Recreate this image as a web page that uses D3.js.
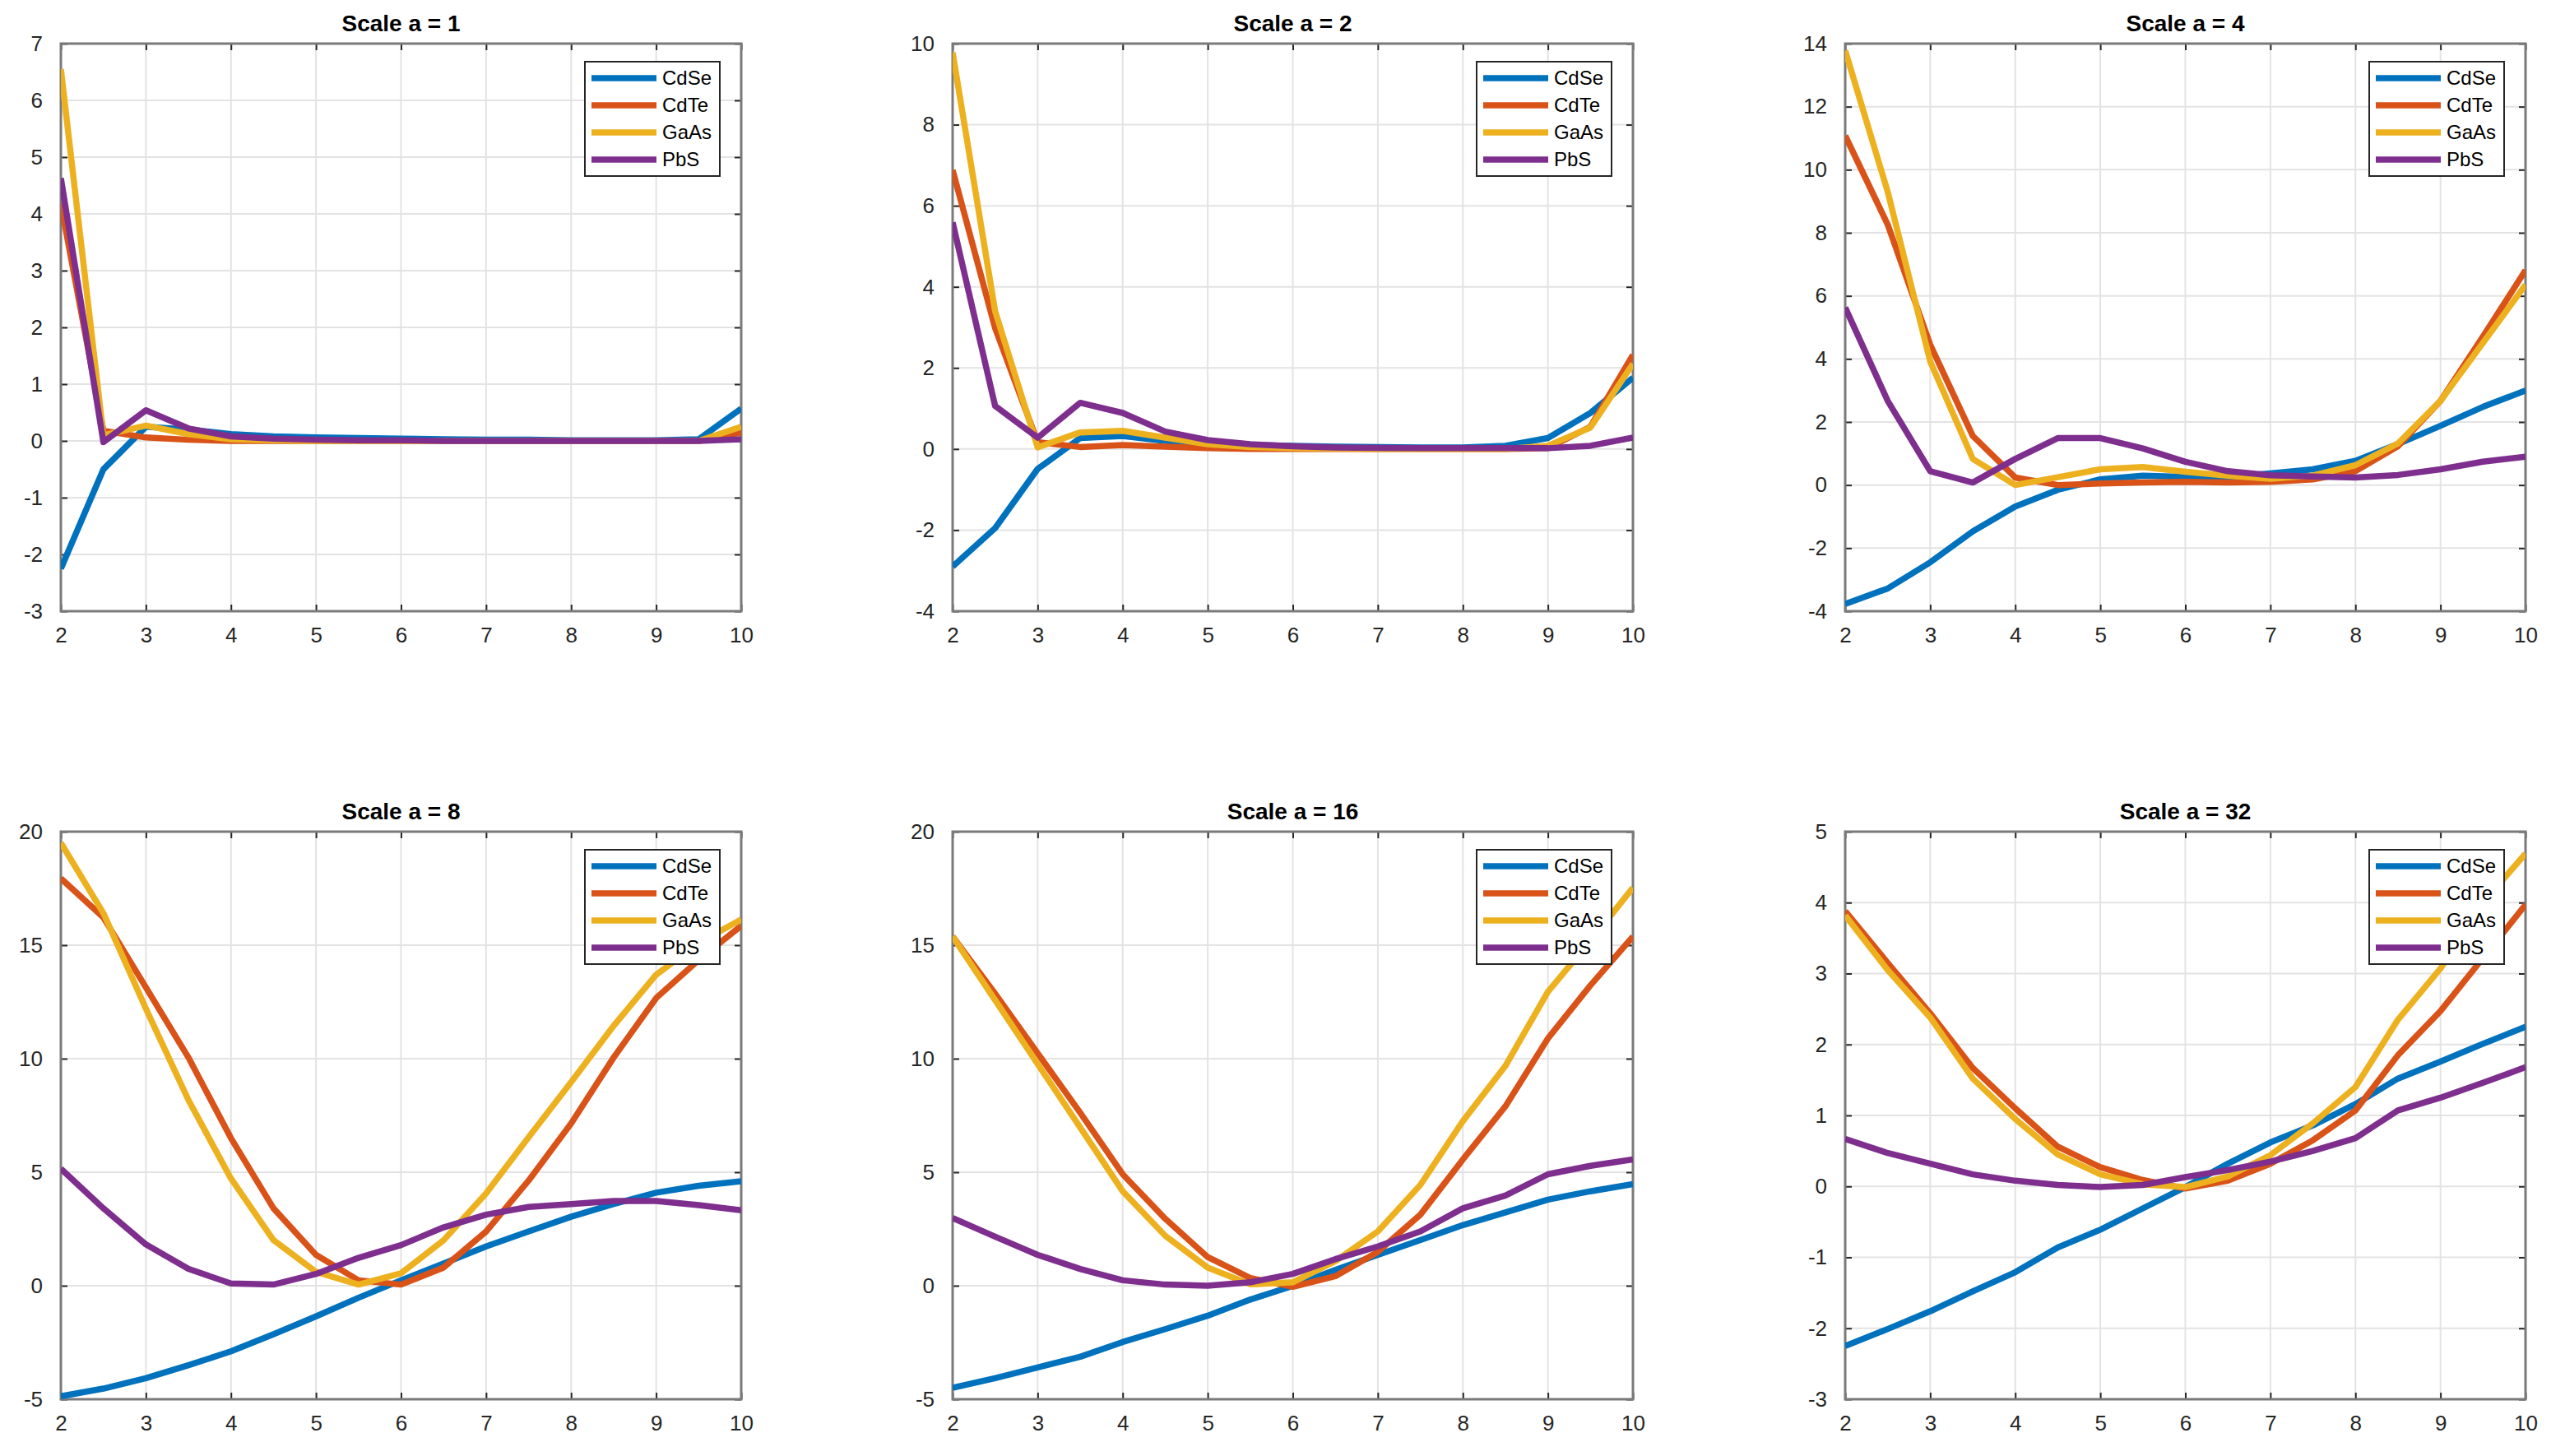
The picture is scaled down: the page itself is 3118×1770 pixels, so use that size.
<!DOCTYPE html>
<html>
<head>
<meta charset="utf-8">
<script src="https://cdn.jsdelivr.net/npm/d3@7"></script>
<style>
  body { margin: 0; background: #fff; }
  text { font-family: "Liberation Sans", Arial, sans-serif; }
</style>
</head>
<body>
<script>
// x positions shared by every panel
var xs = [2, 2.5, 3, 3.5, 4, 4.5, 5, 5.5, 6, 6.5, 7, 7.5, 8, 8.5, 9, 9.5, 10];
var xTicks = [2, 3, 4, 5, 6, 7, 8, 9, 10];

var scales = [1, 2, 4, 8, 16, 32];
var yDomains = [[-3, 7], [-4, 10], [-4, 14], [-5, 20], [-5, 20], [-3, 5]];
var yTicks = [
  [-3, -2, -1, 0, 1, 2, 3, 4, 5, 6, 7],
  [-4, -2, 0, 2, 4, 6, 8, 10],
  [-4, -2, 0, 2, 4, 6, 8, 10, 12, 14],
  [-5, 0, 5, 10, 15, 20],
  [-5, 0, 5, 10, 15, 20],
  [-3, -2, -1, 0, 1, 2, 3, 4, 5]
];

var names = ["CdSe", "CdTe", "GaAs", "PbS"];
var colors = ["#0072BD", "#D95319", "#EDB120", "#7E2F8E"];

// one row per scale a = 1, 2, 4, 8, 16, 32
var CdSe = [
  [-2.25, -0.5, 0.25, 0.2, 0.12, 0.08, 0.06, 0.05, 0.04, 0.03, 0.02, 0.02, 0.01, 0.01, 0.01, 0.03, 0.57],
  [-2.9, -1.95, -0.49, 0.27, 0.32, 0.2, 0.13, 0.1, 0.08, 0.06, 0.05, 0.04, 0.04, 0.08, 0.27, 0.89, 1.76],
  [-3.77, -3.28, -2.45, -1.47, -0.68, -0.15, 0.18, 0.3, 0.26, 0.26, 0.37, 0.5, 0.77, 1.3, 1.88, 2.48, 3.0],
  [-4.87, -4.53, -4.07, -3.5, -2.89, -2.14, -1.35, -0.53, 0.24, 0.98, 1.73, 2.39, 3.04, 3.6, 4.1, 4.4, 4.6],
  [-4.5, -4.07, -3.6, -3.13, -2.48, -1.91, -1.32, -0.61, -0.01, 0.7, 1.36, 2.01, 2.67, 3.23, 3.79, 4.16, 4.48],
  [-2.25, -2.01, -1.76, -1.48, -1.21, -0.86, -0.61, -0.31, -0.01, 0.32, 0.62, 0.86, 1.16, 1.52, 1.76, 2.01, 2.25]
];
var CdTe = [
  [4.18, 0.18, 0.06, 0.02, 0.0, 0.0, 0.0, 0.0, 0.0, 0.0, 0.0, 0.0, 0.0, 0.0, 0.0, 0.0, 0.15],
  [6.88, 2.98, 0.17, 0.05, 0.1, 0.06, 0.02, 0.0, 0.0, 0.0, 0.0, 0.0, 0.0, 0.0, 0.02, 0.55, 2.32],
  [11.08, 8.26, 4.45, 1.56, 0.24, 0.0, 0.05, 0.08, 0.1, 0.08, 0.1, 0.18, 0.44, 1.23, 2.67, 4.71, 6.81],
  [17.94, 16.22, 13.14, 10.05, 6.5, 3.41, 1.36, 0.24, 0.05, 0.8, 2.39, 4.63, 7.15, 10.05, 12.67, 14.35, 15.85],
  [15.38, 12.86, 10.24, 7.62, 4.91, 2.95, 1.26, 0.34, -0.05, 0.42, 1.49, 3.13, 5.56, 7.9, 10.89, 13.23, 15.38],
  [3.88, 3.15, 2.44, 1.67, 1.1, 0.56, 0.27, 0.09, -0.03, 0.08, 0.32, 0.65, 1.07, 1.85, 2.47, 3.22, 3.97]
];
var GaAs = [
  [6.55, 0.1, 0.27, 0.12, 0.03, 0.01, 0.0, 0.0, 0.0, 0.0, 0.0, 0.0, 0.0, 0.0, 0.0, 0.0, 0.25],
  [9.78, 3.4, 0.04, 0.41, 0.45, 0.28, 0.12, 0.05, 0.02, 0.01, 0.0, 0.0, 0.0, 0.0, 0.08, 0.53, 2.1],
  [13.78, 9.3, 3.92, 0.83, 0.0, 0.25, 0.5, 0.57, 0.42, 0.3, 0.2, 0.3, 0.63, 1.32, 2.67, 4.51, 6.35],
  [19.5, 16.41, 12.2, 8.18, 4.72, 2.01, 0.61, 0.05, 0.55, 2.0, 4.07, 6.54, 8.97, 11.45, 13.7, 15.1, 16.13],
  [15.38, 12.58, 9.77, 6.97, 4.16, 2.2, 0.8, 0.06, 0.15, 1.08, 2.39, 4.44, 7.25, 9.68, 12.95, 15.19, 17.53],
  [3.82, 3.05, 2.38, 1.52, 0.95, 0.45, 0.17, 0.03, -0.01, 0.14, 0.44, 0.89, 1.4, 2.35, 3.07, 4.0, 4.69]
];
var PbS = [
  [4.63, -0.02, 0.54, 0.22, 0.08, 0.04, 0.02, 0.01, 0.01, 0.0, 0.0, 0.0, 0.0, 0.0, 0.0, 0.0, 0.03],
  [5.59, 1.06, 0.28, 1.14, 0.89, 0.43, 0.22, 0.12, 0.07, 0.04, 0.03, 0.02, 0.02, 0.02, 0.02, 0.08, 0.28],
  [5.63, 2.67, 0.44, 0.08, 0.83, 1.49, 1.49, 1.16, 0.74, 0.44, 0.31, 0.27, 0.24, 0.32, 0.5, 0.74, 0.9],
  [5.15, 3.41, 1.82, 0.74, 0.1, 0.05, 0.52, 1.23, 1.79, 2.57, 3.13, 3.47, 3.6, 3.73, 3.73, 3.55, 3.32],
  [2.98, 2.16, 1.36, 0.74, 0.24, 0.05, 0.0, 0.15, 0.52, 1.17, 1.73, 2.39, 3.41, 3.97, 4.91, 5.28, 5.56],
  [0.67, 0.47, 0.32, 0.17, 0.08, 0.02, -0.01, 0.02, 0.13, 0.23, 0.35, 0.5, 0.68, 1.07, 1.25, 1.46, 1.68]
];

var W = 3118, H = 1770;
var pw = 827, ph = 690;
var lefts = [74, 1158, 2243];
var tops = [53, 1011];

var svg = d3.select("body")
  .append("svg")
  .attr("width", W)
  .attr("height", H);

var series = [CdSe, CdTe, GaAs, PbS];

// plain hyphen minus, like the original labels
var fmt = function(d) { return String(d); };

scales.forEach(function(a, k) {
  var ox = lefts[k % 3], oy = tops[Math.floor(k / 3)];
  var g = svg.append("g").attr("transform", "translate(" + ox + "," + oy + ")");

  var x = d3.scaleLinear().domain([2, 10]).range([0, pw]);
  var y = d3.scaleLinear().domain(yDomains[k]).range([ph, 0]);

  // grid
  g.append("g").selectAll("line").data(xTicks).join("line")
    .attr("x1", d => x(d)).attr("x2", d => x(d))
    .attr("y1", 0).attr("y2", ph)
    .attr("stroke", "#e3e3e3").attr("stroke-width", 2);
  g.append("g").selectAll("line").data(yTicks[k]).join("line")
    .attr("y1", d => y(d)).attr("y2", d => y(d))
    .attr("x1", 0).attr("x2", pw)
    .attr("stroke", "#e3e3e3").attr("stroke-width", 2);

  // axes with inward ticks on all sides
  var tickLen = 8;
  g.append("g").attr("transform", "translate(0," + ph + ")")
    .call(d3.axisBottom(x).tickValues(xTicks).tickSizeInner(-tickLen).tickSizeOuter(0).tickPadding(20).tickFormat(fmt));
  g.append("g")
    .call(d3.axisTop(x).tickValues(xTicks).tickSizeInner(-tickLen).tickSizeOuter(0).tickFormat(""));
  g.append("g")
    .call(d3.axisLeft(y).tickValues(yTicks[k]).tickSizeInner(-tickLen).tickSizeOuter(0).tickPadding(22).tickFormat(fmt));
  g.append("g").attr("transform", "translate(" + pw + ",0)")
    .call(d3.axisRight(y).tickValues(yTicks[k]).tickSizeInner(-tickLen).tickSizeOuter(0).tickFormat(""));

  g.selectAll(".domain").remove();
  g.selectAll(".tick line").attr("stroke", "#262626").attr("stroke-width", 2);
  g.selectAll(".tick text").attr("fill", "#262626").style("font-size", "26px");

  g.append("rect")
    .attr("width", pw).attr("height", ph)
    .attr("fill", "none").attr("stroke", "#7a7a7a").attr("stroke-width", 3);

  // clip the data lines to the plot box
  g.append("clipPath").attr("id", "clip" + k)
    .append("rect").attr("width", pw).attr("height", ph);

  var line = d3.line()
    .x((d, i) => x(xs[i]))
    .y(d => y(d));

  g.append("g").attr("clip-path", "url(#clip" + k + ")")
    .selectAll("path").data(series).join("path")
    .attr("d", s => line(s[k]))
    .attr("fill", "none")
    .attr("stroke", (s, i) => colors[i])
    .attr("stroke-width", 7.5)
    .attr("stroke-linejoin", "round");

  // title
  g.append("text")
    .attr("x", pw / 2).attr("y", -15)
    .attr("text-anchor", "middle")
    .style("font-size", "28px").style("font-weight", "bold")
    .attr("fill", "#000")
    .text("Scale a = " + a);

  // legend
  var lg = g.append("g").attr("transform", "translate(" + (pw - 190) + ",22)");
  lg.append("rect")
    .attr("width", 164).attr("height", 139)
    .attr("fill", "#fff").attr("stroke", "#262626").attr("stroke-width", 2);
  names.forEach(function(n, i) {
    var yy = 20 + i * 33;
    lg.append("line")
      .attr("x1", 8).attr("x2", 87).attr("y1", yy).attr("y2", yy)
      .attr("stroke", colors[i]).attr("stroke-width", 7.5);
    lg.append("text")
      .attr("x", 94).attr("y", yy).attr("dy", "0.35em")
      .style("font-size", "24px").attr("fill", "#000")
      .text(n);
  });
});
</script>
</body>
</html>
